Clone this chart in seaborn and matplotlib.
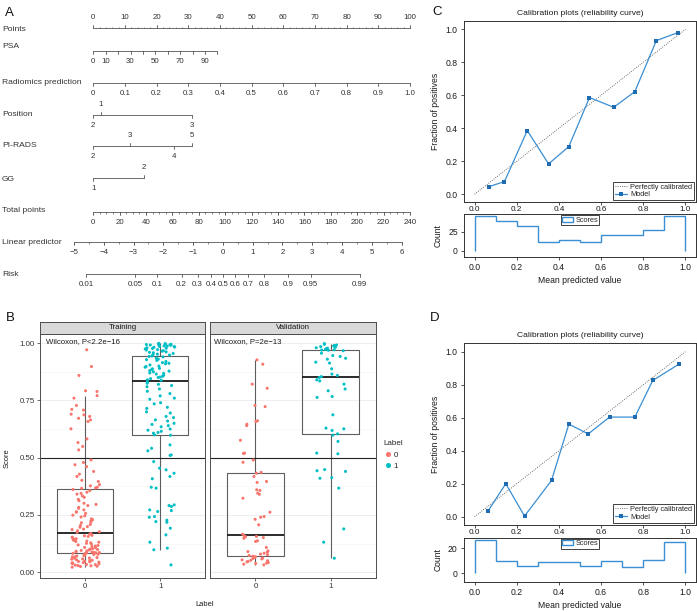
import numpy as np
import pandas as pd
import matplotlib
matplotlib.use("Agg")
import matplotlib.pyplot as plt
from matplotlib.lines import Line2D
from matplotlib.patches import Rectangle
import seaborn as sns

W, H = 697, 612

# === DATA: nomogram (A) ===
points_ticks = list(range(0, 101, 10))
psa_values = [0, 10, 20, 30, 40, 50, 60, 70, 80, 90, 100]
psa_labels = ["0", "10", "", "30", "", "50", "", "70", "", "90", ""]
psa_points_per_unit = 0.392
radiomics_values = [0.0, 0.1, 0.2, 0.3, 0.4, 0.5, 0.6, 0.7, 0.8, 0.9, 1.0]
radiomics_labels = ["0", "0.1", "0.2", "0.3", "0.4", "0.5", "0.6", "0.7", "0.8", "0.9", "1.0"]
position_levels = ["1", "2", "3"]
position_points = [2.4, 0.0, 31.3]
pirads_levels = ["2", "3", "4", "5"]
pirads_points = [0.0, 11.6, 25.5, 31.1]
gg_levels = ["1", "2"]
gg_points = [0.0, 16.0]
total_ticks = list(range(0, 241, 20))
lp_ticks = list(range(-5, 7))
risk_ticks = [0.01, 0.05, 0.1, 0.2, 0.3, 0.4, 0.5, 0.6, 0.7, 0.8, 0.9, 0.95, 0.99]
risk_labels = ["0.01", "0.05", "0.1", "0.2", "0.3", "0.4", "0.5", "0.6", "0.7", "0.8", "0.9", "0.95", "0.99"]
lp_intercept, lp_slope = -4.35, 0.0443

# === DATA: scores by set / label (B) ===
train0 = [0.971, 0.898, 0.859, 0.792, 0.789, 0.771, 0.760, 0.728, 0.711, 0.708, 0.690, 0.687, 0.680, 0.672,
          0.665, 0.658, 0.626, 0.582, 0.566, 0.549, 0.534, 0.490, 0.479, 0.469, 0.461, 0.440, 0.428, 0.418,
          0.401, 0.396, 0.382, 0.377, 0.371, 0.368, 0.366,
          0.361, 0.356, 0.349, 0.344, 0.341, 0.333, 0.327, 0.318, 0.312, 0.301, 0.296, 0.291, 0.283, 0.279,
          0.272, 0.264, 0.262, 0.257, 0.249, 0.246, 0.241, 0.233, 0.229, 0.224, 0.219, 0.216, 0.208, 0.204,
          0.199, 0.196, 0.188, 0.186, 0.181, 0.177, 0.174,
          0.169, 0.166, 0.161, 0.159, 0.156, 0.153, 0.151, 0.146, 0.144, 0.141, 0.139, 0.136, 0.134, 0.131,
          0.128, 0.126, 0.123, 0.119, 0.117, 0.114, 0.112, 0.108, 0.106, 0.103, 0.101, 0.099, 0.097, 0.095,
          0.093, 0.091, 0.089, 0.088, 0.087, 0.086, 0.085,
          0.084, 0.082, 0.081, 0.078, 0.077, 0.074, 0.073, 0.071, 0.068, 0.067, 0.064, 0.062, 0.061, 0.058,
          0.057, 0.054, 0.052, 0.051, 0.048, 0.047, 0.045, 0.044, 0.042, 0.041, 0.039, 0.037, 0.036, 0.034,
          0.033, 0.031, 0.029, 0.028, 0.026, 0.025, 0.022]
train1 = [0.032, 0.098, 0.105, 0.131, 0.163, 0.192, 0.218, 0.221, 0.227, 0.240, 0.243, 0.265, 0.269, 0.272,
          0.287, 0.291, 0.294, 0.367, 0.371, 0.408, 0.418, 0.432, 0.447, 0.454, 0.483, 0.510, 0.512, 0.530,
          0.541, 0.556, 0.598, 0.600,
          0.607, 0.610, 0.615, 0.620, 0.625, 0.635, 0.640, 0.645, 0.650, 0.660, 0.665, 0.675, 0.680, 0.695,
          0.700, 0.715, 0.720, 0.735, 0.740, 0.755, 0.760, 0.770, 0.780, 0.790, 0.800, 0.810, 0.815, 0.820,
          0.825, 0.830,
          0.838, 0.840, 0.845, 0.850, 0.852, 0.855, 0.860, 0.865, 0.868, 0.870, 0.875, 0.878, 0.880, 0.885,
          0.888, 0.890, 0.895, 0.898, 0.900, 0.905, 0.910, 0.912, 0.915, 0.920, 0.925, 0.928, 0.930, 0.935,
          0.940, 0.942, 0.944,
          0.948, 0.950, 0.952, 0.955, 0.958, 0.960, 0.962, 0.965, 0.967, 0.970, 0.972, 0.975, 0.977, 0.978,
          0.980, 0.982, 0.983, 0.985, 0.986, 0.987, 0.988, 0.990, 0.991, 0.992, 0.993, 0.994, 0.995, 0.996,
          0.997, 0.998, 0.999]
val0 = [0.032, 0.035, 0.038, 0.040, 0.042, 0.045, 0.047, 0.050, 0.052, 0.054, 0.058, 0.060, 0.062, 0.064,
        0.068, 0.070, 0.073, 0.076, 0.079, 0.083, 0.087, 0.090, 0.093, 0.108, 0.134, 0.137, 0.148, 0.151,
        0.155, 0.156, 0.159,
        0.166, 0.207, 0.231, 0.240, 0.243, 0.262, 0.323, 0.340, 0.345, 0.357, 0.360, 0.392, 0.396, 0.418,
        0.432, 0.436, 0.480, 0.490, 0.518, 0.520, 0.576, 0.640, 0.646, 0.658, 0.661, 0.723, 0.728, 0.803,
        0.821, 0.908, 0.927]
val1 = [0.061, 0.131, 0.189, 0.367, 0.410, 0.413, 0.440, 0.443, 0.448, 0.517, 0.520, 0.571,
        0.598, 0.604, 0.619, 0.626, 0.629, 0.687, 0.763, 0.767, 0.792, 0.800, 0.821, 0.835, 0.840,
        0.850, 0.854, 0.859, 0.865, 0.888, 0.913, 0.917, 0.930, 0.934, 0.942, 0.946, 0.956, 0.967, 0.969, 0.971,
        0.970, 0.972, 0.975, 0.978, 0.980, 0.982, 0.985, 0.987, 0.990, 0.992, 0.995, 0.998]

# === DATA: calibration curves (C training, D validation) ===
calib_train_x = [0.068, 0.142, 0.250, 0.351, 0.447, 0.545, 0.660, 0.760, 0.862, 0.964]
calib_train_y = [0.046, 0.077, 0.386, 0.184, 0.289, 0.586, 0.527, 0.622, 0.931, 0.980]
calib_val_x = [0.065, 0.148, 0.237, 0.365, 0.447, 0.539, 0.640, 0.760, 0.845, 0.968]
calib_val_y = [0.037, 0.200, 0.004, 0.220, 0.561, 0.502, 0.604, 0.604, 0.826, 0.924]
bin_edges = [0.0, 0.1, 0.2, 0.3, 0.4, 0.5, 0.6, 0.7, 0.8, 0.9, 1.0]
hist_train = [46, 39, 33, 11, 14, 12, 21, 21, 27, 45]
hist_val = [27, 10, 6, 9, 9, 6, 10, 5, 11, 25]
diag = [0, 1]

sns.set_theme(style="ticks")
plt.rcParams["font.family"] = ["Liberation Sans", "DejaVu Sans"]
plt.rcParams["axes.unicode_minus"] = True

fig = plt.figure(figsize=(W / 100, H / 100), dpi=100)
fig.patch.set_facecolor("white")

LINE = "#555555"
TXT = "#333333"
MINUS = "\u2212"


def frac(left, top, right, bottom):
    return [left / W, 1 - bottom / H, (right - left) / W, (bottom - top) / H]


# === PANEL A: NOMOGRAM ===
axA = fig.add_axes(frac(0, 0, 420, 300))
PX0, PXS = 93.3, 3.167  # points 0 on pixel 93.3, 3.167 px per point
axA.set_xlim(-PX0 / PXS, (420 - PX0) / PXS)
axA.set_ylim(300, 0)
axA.axis("off")


def px(xpix):
    return (xpix - PX0) / PXS


def total_to_x(t):
    return np.asarray(t, float) * 100 / 240


def lp_to_x(lp):
    return total_to_x((np.asarray(lp, float) - lp_intercept) / lp_slope)


def risk_to_x(r):
    r = np.asarray(r, float)
    return lp_to_x(np.log(r / (1 - r)))


def draw_scale(ax, y, xs, labels, up, minor=None, minor_up=False):
    xs = np.asarray(xs, float)
    ax.plot([xs.min(), xs.max()], [y, y], color=LINE, lw=0.6)
    for x, lab, u in zip(xs, labels, up):
        d = -1 if u else 1
        ax.plot([x, x], [y, y + d * 3], color=LINE, lw=0.6)
        ax.text(x, y + d * 10.5, lab, ha="center", va="center", fontsize=5.7, color=TXT)
    if minor is not None:
        d = -1 if minor_up else 1
        ax.vlines(minor, y, y + d * 1.8, color=LINE, lw=0.5)


rows = [
    ("Points", 28.3, 29.5), ("PSA", 51, 47), ("Radiomics prediction", 82.7, 82),
    ("Position", 115.3, 114), ("PI-RADS", 146, 145.3), ("GG", 178.3, 179.3),
    ("Total points", 211.7, 210), ("Linear predictor", 242.3, 242.3), ("Risk", 274, 274),
]
for name, ly, ty in rows:
    axA.text(px(2), ty, name, ha="left", va="center", fontsize=6.1, color=TXT)

draw_scale(axA, 28.3, points_ticks, [str(v) for v in points_ticks], [True] * 11,
           minor=np.arange(0, 101, 2), minor_up=True)
draw_scale(axA, 51, np.asarray(psa_values) * psa_points_per_unit, psa_labels, [False] * 11)
draw_scale(axA, 82.7, np.asarray(radiomics_values) * 100, radiomics_labels, [False] * 11)
draw_scale(axA, 115.3, position_points, position_levels, [True, False, False])
draw_scale(axA, 146, pirads_points, pirads_levels, [False, True, False, True])
draw_scale(axA, 178.3, gg_points, gg_levels, [False, True])
draw_scale(axA, 211.7, total_to_x(total_ticks), [str(v) for v in total_ticks], [False] * 13,
           minor=total_to_x(np.arange(0, 241, 5)))
draw_scale(axA, 242.3, lp_to_x(lp_ticks), [str(v).replace("-", MINUS) for v in lp_ticks], [False] * 12,
           minor=lp_to_x(np.arange(-5, 6.01, 0.5)))
draw_scale(axA, 274, risk_to_x(risk_ticks), risk_labels, [False] * 13)
axA.text(px(5), 13, "A", ha="left", va="center", fontsize=9.5, color="#111111")

# === PANEL B: BOX + JITTER ===
sets = [("Training", train0, train1, "Wilcoxon, P<2.2e" + MINUS + "16", 40.3, 205),
        ("Validation", val0, val1, "Wilcoxon, P=2e" + MINUS + "13", 210.3, 375.7)]
palette = {"0": "#F8766D", "1": "#00BFC4"}
np.random.seed(3)
for i, (name, s0, s1, ptxt, left, right) in enumerate(sets):
    sub = pd.concat([pd.DataFrame({"Label": "0", "Score": s0}),
                     pd.DataFrame({"Label": "1", "Score": s1})], ignore_index=True)
    ax = fig.add_axes(frac(left, 334, right, 577.7))
    ax.set_facecolor("white")
    ax.set_yticks([0.125, 0.375, 0.625, 0.875], minor=True)
    ax.grid(which="major", color="#ebebeb", lw=0.6)
    ax.grid(which="minor", axis="y", color="#f4f4f4", lw=0.4)
    ax.set_axisbelow(True)
    sns.boxplot(data=sub, x="Label", y="Score", order=["0", "1"], fill=False, color="#5e5e5e",
                width=0.75, showfliers=False, showcaps=False, linewidth=0.8, whis=1.5,
                medianprops={"color": "#1a1a1a", "linewidth": 1.3}, ax=ax)
    sns.stripplot(data=sub, x="Label", y="Score", order=["0", "1"], hue="Label", palette=palette,
                  jitter=0.2, size=2.2, linewidth=0, legend=False, ax=ax)
    ax.axhline(0.5, color="#222222", lw=0.8)
    ax.set_xlim(-0.6, 1.6)
    ax.set_ylim(-0.024, 1.04)
    ax.set_yticks([0, 0.25, 0.5, 0.75, 1.0])
    ax.set_xlabel("")
    ax.set_ylabel("")
    for sp in ax.spines.values():
        sp.set_color("#4d4d4d")
        sp.set_linewidth(0.7)
        sp.set_visible(True)
    ax.tick_params(axis="both", which="major", labelsize=5.7, length=2, width=0.5,
                   color="#333333", labelcolor="#333333", pad=2)
    ax.tick_params(axis="y", which="minor", length=0)
    if i == 0:
        ax.set_yticklabels(["0.00", "0.25", "0.50", "0.75", "1.00"])
    else:
        ax.tick_params(axis="y", which="major", length=0, labelleft=False)
    ax.text(0.033 if i == 0 else 0.02, 0.967, ptxt,
            transform=ax.transAxes, ha="left", va="center", fontsize=5.6, color="#1a1a1a")
    strip = fig.add_axes(frac(left, 321.7, right, 334))
    strip.set_facecolor("#d9d9d9")
    strip.set_xticks([])
    strip.set_yticks([])
    for sp in strip.spines.values():
        sp.set_color("#4d4d4d")
        sp.set_linewidth(0.7)
    strip.text(0.5, 0.5, name, ha="center", va="center", fontsize=5.7, color="#1a1a1a",
               transform=strip.transAxes)

fig.text(7 / W, 1 - 458 / H, "Score", rotation=90, ha="center", va="center", fontsize=5.4, color="#1a1a1a")
fig.text(205 / W, 1 - 604 / H, "Label", ha="center", va="center", fontsize=5.4, color="#1a1a1a")
fig.text(6 / W, 1 - 318 / H, "B", ha="left", va="center", fontsize=9.5, color="#111111")
handles = [Line2D([], [], marker="o", ls="", color=palette[k], markersize=2.6) for k in ["0", "1"]]
leg = fig.legend(handles, ["0", "1"], title="Label", loc="upper left",
                 bbox_to_anchor=(376 / W, 1 - 433 / H), frameon=False, fontsize=5.8,
                 title_fontsize=5.8, handletextpad=0.1, handlelength=1.2, labelspacing=0.45)
leg._legend_box.align = "left"

# === PANELS C & D: CALIBRATION ===
BLUE = "#3a8ed3"


def draw_calibration(ax_main, ax_hist, cx, cy, counts, ytop, hist_ticks, hist_ylim):
    ax_main.plot(diag, diag, ls=":", color="#444444", lw=0.6, label="Perfectly calibrated")
    sns.lineplot(x=cx, y=cy, marker="s", markersize=2.6, markeredgewidth=0, color=BLUE,
                 markerfacecolor="#1f6cb0", lw=0.9, label="Model", ax=ax_main)
    ax_main.set_xlim(-0.05, 1.05)
    ax_main.set_ylim(-0.05, ytop)
    ticks = [0.0, 0.2, 0.4, 0.6, 0.8, 1.0]
    tlabels = ["0.0", "0.2", "0.4", "0.6", "0.8", "1.0"]
    ax_main.set_xticks(ticks, tlabels)
    ax_main.set_yticks(ticks, tlabels)
    ax_main.set_ylabel("Fraction of positives", fontsize=6.2, labelpad=4, color="#1a1a1a")
    ax_main.set_title("Calibration plots (reliability curve)", fontsize=6.1, pad=4, color="#1a1a1a")
    ax_main.legend(loc="lower right", fontsize=5.3, frameon=True, edgecolor="#222222", fancybox=False,
                   framealpha=1, borderpad=0.25, handlelength=1.6, labelspacing=0.1,
                   handletextpad=0.4, borderaxespad=0.3).get_frame().set_linewidth(0.6)

    ax_hist.set_facecolor("none")
    ax_hist.stairs(counts, bin_edges, baseline=0, color=BLUE, lw=1.0)
    ax_hist.set_xlim(-0.05, 1.05)
    ax_hist.set_ylim(*hist_ylim)
    ax_hist.set_xticks(ticks, tlabels)
    ax_hist.set_yticks(hist_ticks)
    ax_hist.set_ylabel("Count", fontsize=6.2, labelpad=4, color="#1a1a1a")
    ax_hist.set_xlabel("Mean predicted value", fontsize=6.2, labelpad=3, color="#1a1a1a")
    ax_hist.legend([Rectangle((0, 0), 1, 1, fill=False, edgecolor=BLUE, lw=1.0)], ["Scores"],
                   loc="upper center", fontsize=5.3, frameon=True, edgecolor="#222222", fancybox=False,
                   framealpha=1, borderpad=0.15, handlelength=1.6, handletextpad=0.3,
                   borderaxespad=0.2).get_frame().set_linewidth(0.6)
    for a in (ax_main, ax_hist):
        for sp in a.spines.values():
            sp.set_color("#333333")
            sp.set_linewidth(0.7)
        a.tick_params(labelsize=6.2, length=2.5, width=0.6, color="#333333", labelcolor="#1a1a1a", pad=2)
    ax_main.tick_params(axis="x", labelsize=5.9, length=2, pad=0.8)


axC = fig.add_axes(frac(464, 21, 696, 202.5))
axCh = fig.add_axes(frac(464, 214, 696, 257))
draw_calibration(axC, axCh, calib_train_x, calib_train_y, hist_train, 1.05, [0, 25], (-8, 48.2))
fig.text(432 / W, 1 - 12 / H, "C", ha="left", va="center", fontsize=9.5, color="#111111")

axD = fig.add_axes(frac(464, 343, 696, 525))
axDh = fig.add_axes(frac(464, 537.7, 696, 582))
draw_calibration(axD, axDh, calib_val_x, calib_val_y, hist_val, 1.053, [0, 20], (-7, 28.5))
fig.text(430 / W, 1 - 318 / H, "D", ha="left", va="center", fontsize=9.5, color="#111111")

fig.savefig("out.png", dpi=100)
